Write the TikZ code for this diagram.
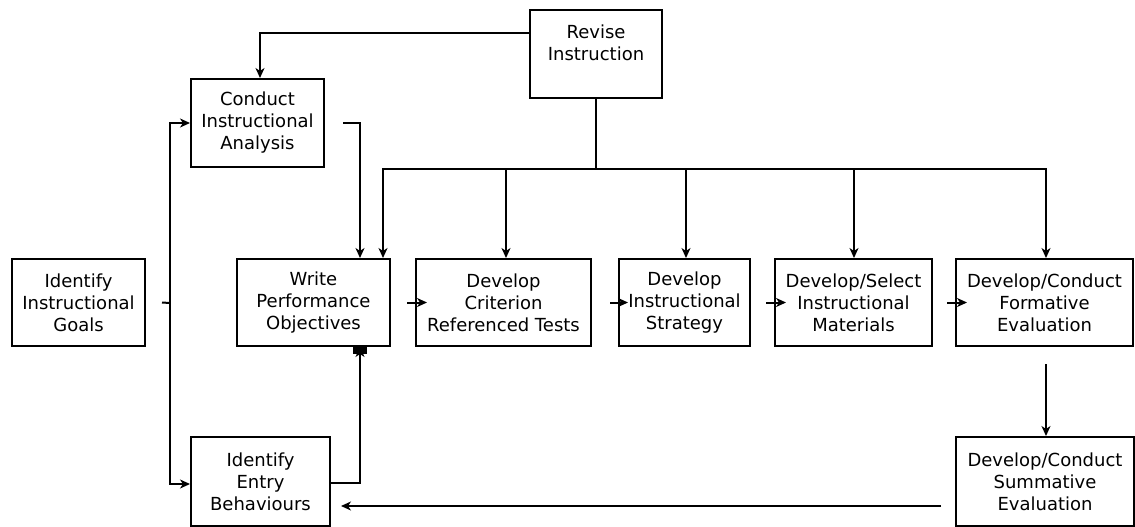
\documentclass[tikz,border=0pt]{standalone}
\usepackage{fontspec}
\setmainfont{DejaVu Sans}
\usetikzlibrary{arrows.meta,calc}
\begin{document}
\begin{tikzpicture}[x=1pt,y=-1pt,
  box/.style={draw=black,line width=2pt,inner sep=0pt,align=center,
    font=\fontsize{18}{22}\selectfont},
  ln/.style={draw=black,line width=2pt},
  arr/.style={ln,-{Stealth[length=10pt,width=9pt,inset=3pt]}}]
\useasboundingbox (0,0) rectangle (1135,527);
% boxes
\node[box,minimum width=132,minimum height=88] (revise) at (596,54) {Revise\\Instruction\\~};
\node[box,minimum width=133,minimum height=88] (conduct) at (257.5,123) {Conduct\\Instructional\\Analysis};
\node[box,minimum width=133,minimum height=87] (goals) at (78.5,302.5) {Identify\\Instructional\\Goals};
\node[box,minimum width=153,minimum height=87] (write) at (313.5,302.5) {Write\\Performance\\Objectives};
\node[box,minimum width=175,minimum height=87] (tests) at (503.5,302.5) {Develop\\Criterion\\Referenced Tests};
\node[box,minimum width=131,minimum height=87] (strategy) at (684.5,302.5) {Develop\\Instructional\\Strategy};
\node[box,minimum width=157,minimum height=87] (materials) at (853.5,302.5) {Develop/Select\\Instructional\\Materials};
\node[box,minimum width=177,minimum height=87] (formative) at (1044.5,302.5) {Develop/Conduct\\Formative\\Evaluation};
\node[box,minimum width=139,minimum height=89] (entry) at (260.5,481.5) {Identify\\Entry\\Behaviours};
\node[box,minimum width=178,minimum height=89] (summative) at (1045,481.5) {Develop/Conduct\\Summative\\Evaluation};
% helper coordinates
\coordinate (bus) at (596,169);
\coordinate (wdrop) at (write.north -| 383,0);
\coordinate (wtop) at (write.north -| 360,0);
\coordinate (wbot) at (write.south -| 360,0);
\coordinate (split) at (170,303);
% revise feedback
\draw[arr] (revise.west |- 0,33) -| (conduct.north -| 260,0);
\draw[ln] (revise.south) -- (bus);
\draw[arr] (bus) -| (wdrop);
\draw[arr] (bus) -| (formative.north -| 1046,0);
\draw[arr] (bus -| 506,0) -- (tests.north -| 506,0);
\draw[arr] (bus -| 686,0) -- (strategy.north -| 686,0);
\draw[arr] (bus -| 854,0) -- (materials.north -| 854,0);
% analysis to objectives
\draw[arr] ($(conduct.east)+(18,0)$) -| (wtop);
% goals split
\draw[ln] ($(goals.east)+(16,0)$) -- (split);
\draw[arr] (split) |- (conduct.west);
\draw[arr] (split) |- (entry.west |- 0,484);
% entry to objectives
\draw[arr] (entry.east |- 0,483) -| (wbot);
\fill[black] ($(wbot)+(-7,0)$) rectangle ($(wbot)+(7,7)$);
% formative to summative
\draw[arr] ($(formative.south -| 1046,0)+(0,17)$) -- (summative.north -| 1046,0);
% summative back to entry
\draw[arr] ($(summative.west |- 0,506)+(-14,0)$) -- ($(entry.east |- 0,506)+(10,0)$);
% short arrow stubs into boxes
\draw[arr] ($(tests.west)+(-8,0)$) -- ($(tests.west)+(12,0)$);
\draw[arr] ($(strategy.west)+(-8,0)$) -- ($(strategy.west)+(10,0)$);
\draw[arr] ($(materials.west)+(-8,0)$) -- ($(materials.west)+(12,0)$);
\draw[arr] ($(formative.west)+(-8,0)$) -- ($(formative.west)+(12,0)$);
\end{tikzpicture}
\end{document}
